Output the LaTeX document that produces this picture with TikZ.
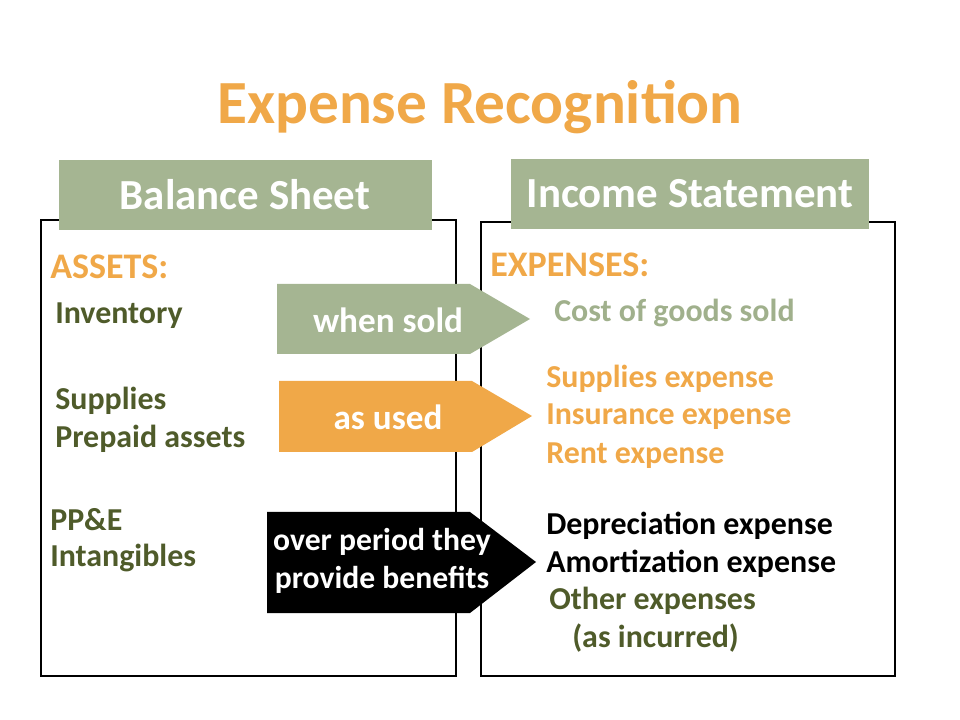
\documentclass[tikz,border=0pt]{standalone}
\usepackage{fontspec}
\setmainfont{Carlito}
\usetikzlibrary{positioning}
\definecolor{titleorange}{RGB}{240,168,72}
\definecolor{sage}{RGB}{165,181,146}
\definecolor{olive}{RGB}{79,91,42}
\definecolor{expgray}{RGB}{160,176,140}

\begin{document}
\begin{tikzpicture}[
    x=0.025cm, y=-0.025cm,
    frame/.style={draw=black, line width=1.5pt},
    header/.style={fill=sage, text=white, font=\bfseries\fontsize{30.5}{34}\selectfont},
    item/.style={anchor=west, font=\bfseries\fontsize{22.7}{26}\selectfont, inner sep=0pt},
    arrtext/.style={text=white, font=\bfseries\fontsize{25}{28}\selectfont, align=center}
  ]
    \useasboundingbox (0,0) rectangle (960,720);
    \node[text=titleorange, font=\bfseries\fontsize{43.6}{48}\selectfont] (title) at (480,107) {Expense Recognition};

    % frames and headers
    \draw[frame] (41,220) rectangle (456,676);
    \draw[frame] (481,222) rectangle (895,676);
    \fill[sage] (59,160) rectangle (432,230);
    \node[header] (bs) at (245,195) {Balance Sheet};
    \fill[sage] (511,159) rectangle (869,229);
    \node[header] (is) at (690,194) {Income Statement};

    % left side
    \node[item, text=titleorange, font=\bfseries\fontsize{25.6}{29}\selectfont] (assets) at (50,267) {ASSETS:};
    \node[item, text=olive] (inv) at (55,316) {Inventory};
    \node[item, text=olive] (sup) at (55,401) {Supplies};
    \node[item, text=olive] (pre) at (55,439) {Prepaid assets};
    \node[item, text=olive] (ppe) at (50,520) {PP\&E};
    \node[item, text=olive] (intang) at (50,558) {Intangibles};

    % arrows
    \fill[sage] (277,284) -- (470,284) -- (530,319) -- (470,354) -- (277,354) -- cycle;
    \node[arrtext] (sold) at (388,320) {when sold};
    \fill[titleorange] (279,381) -- (472,381) -- (532,416) -- (472,452) -- (279,452) -- cycle;
    \node[arrtext] (used) at (388,417) {as used};
    \fill[black] (267,512) -- (470,512) -- (536,562) -- (470,613) -- (267,613) -- cycle;
    \node[arrtext, font=\bfseries\fontsize{22.5}{27}\selectfont] (period) at (382,561) {over period they\\provide benefits};

    % right side
    \node[item, text=titleorange, font=\bfseries\fontsize{25.6}{29}\selectfont] (exp) at (490,265) {EXPENSES:};
    \node[item, text=expgray] (cogs) at (554,313) {Cost of goods sold};
    \node[item, text=titleorange] (supexp) at (546,379) {Supplies expense};
    \node[item, text=titleorange] (insexp) at (546,417) {Insurance expense};
    \node[item, text=titleorange] (rentexp) at (546,456) {Rent expense};
    \node[item, text=black] (depexp) at (546,526) {Depreciation expense};
    \node[item, text=black] (amexp) at (546,564) {Amortization expense};
    \node[item, text=olive] (othexp) at (549,601) {Other expenses};
    \node[item, text=olive] (incur) at (572,638) {(as incurred)};
  \end{tikzpicture}
\end{document}
